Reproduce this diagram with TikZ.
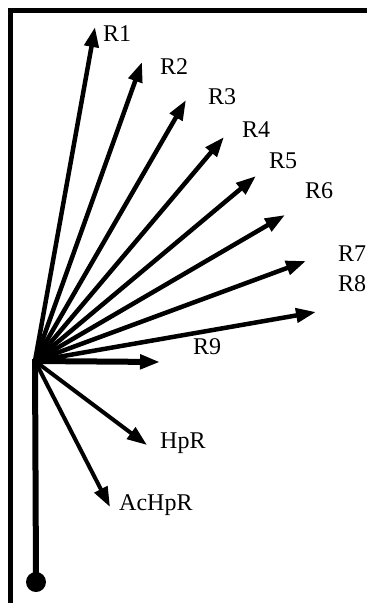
\documentclass[tikz,border=0pt]{standalone}
\usepackage{fontspec}
\setmainfont{Liberation Serif}
\usetikzlibrary{arrows.meta}
\begin{document}
\begin{tikzpicture}[x=1pt,y=-1pt,
  ray/.style={line width=4.5pt,-{Triangle[length=20pt,width=14pt]}},
  lbl/.style={anchor=base west,inner sep=0pt,font=\fontsize{24}{24}\selectfont}]
\useasboundingbox (0,0) rectangle (367,603);
\clip (0,0) rectangle (367,603);
\fill[white] (0,0) rectangle (367,603);
% frame
\draw[line width=5pt] (10.5,610) -- (10.5,10.5) -- (380,10.5);
% origin and tips
\coordinate (O) at (35,361);
\coordinate (t1) at (95,27);
\coordinate (t2) at (142,62);
\coordinate (t3) at (186,100);
\coordinate (t4) at (224,137);
\coordinate (t5) at (256,176);
\coordinate (t6) at (285,215);
\coordinate (t7) at (306,261);
\coordinate (t8) at (316,312);
\coordinate (t9) at (160,362);
\coordinate (th) at (147,445);
\coordinate (ta) at (110,507);
% stem and dot
\node[circle,fill,inner sep=0pt,minimum size=20pt] (dot) at (36,582) {};
\draw[line width=6pt] (35,359) -- (dot.center);
% rays
\foreach \t in {t1,t2,t3,t4,t5,t6,t7,t8} \draw[ray] (O) -- (\t);
\draw[ray,line width=6pt] (O) -- (t9);
\draw[ray,line width=4pt] (O) -- (th);
\draw[ray,line width=4pt] (O) -- (ta);
% labels
\node[lbl] (l1) at (103,41) {R1};
\node[lbl] (l2) at (160,74) {R2};
\node[lbl] (l3) at (208,104) {R3};
\node[lbl] (l4) at (242,137) {R4};
\node[lbl] (l5) at (269,168) {R5};
\node[lbl] (l6) at (305,198) {R6};
\node[lbl] (l7) at (338,261) {R7};
\node[lbl] (l8) at (338,291) {R8};
\node[lbl] (l9) at (193,354) {R9};
\node[lbl] (lh) at (160,448) {HpR};
\node[lbl] (la) at (119,510) {AcHpR};
\end{tikzpicture}
\end{document}
